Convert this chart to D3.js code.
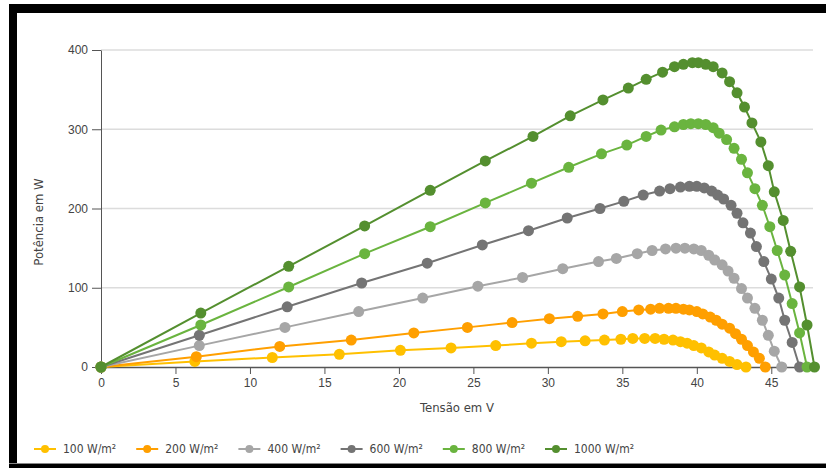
<!DOCTYPE html>
<html>
<head>
<meta charset="utf-8" />
<script src="https://cdn.jsdelivr.net/npm/d3@7"></script>
<style>
  body { margin: 0; background: #fff; }
  svg { display: block; font-family: 'Liberation Sans Narrow', 'DejaVu Sans Condensed', sans-serif; }
  .tick text { fill: #444; font-size: 12px; }
</style>
</head>
<body>
<div id="svg-container"></div>
<script>
const seriesNames = ['100 W/m²', '200 W/m²', '400 W/m²', '600 W/m²', '800 W/m²', '1000 W/m²'];
const seriesColors = ['#ffc000', '#ff9f00', '#a6a6a6', '#747474', '#6ab43f', '#548f2f'];

const volts100 = [0, 6.3, 11.5, 16.0, 20.1, 23.5, 26.5, 28.9, 30.9, 32.5, 33.8, 34.9, 35.7, 36.5, 37.2, 37.8, 38.4, 38.9, 39.35, 39.8, 40.3, 40.8, 41.2, 41.7, 42.2, 42.7, 43.3];
const power100 = [0, 7, 12, 16, 21, 24, 27, 30, 32, 33, 34, 35, 36, 36, 36, 35, 34, 32, 30, 27, 24, 19, 15, 11, 7, 3, 0];

const volts200 = [0, 6.4, 12.0, 16.8, 21.0, 24.6, 27.6, 30.1, 32.0, 33.7, 35.0, 36.1, 36.9, 37.5, 38.1, 38.6, 39.1, 39.5, 40.0, 40.4, 40.9, 41.3, 41.7, 42.2, 42.6, 43.0, 43.4, 43.8, 44.2, 44.6];
const power200 = [0, 13, 26, 34, 43, 50, 56, 61, 64, 67, 70, 72, 73, 74, 74, 74, 73, 72, 70, 67, 63, 59, 54, 49, 42, 35, 27, 19, 11, 0];

const volts400 = [0, 6.6, 12.35, 17.3, 21.6, 25.3, 28.3, 31.0, 33.4, 34.6, 36.0, 37.0, 37.9, 38.6, 39.2, 39.8, 40.3, 40.8, 41.2, 41.7, 42.1, 42.5, 43.0, 43.4, 43.9, 44.4, 44.8, 45.2, 45.7];
const power400 = [0, 27, 50, 70, 87, 102, 113, 124, 133, 137, 143, 147, 149, 150, 150, 149, 147, 141, 135, 129, 121, 112, 99, 87, 74, 59, 40, 20, 0];

const volts600 = [0, 6.6, 12.5, 17.5, 21.9, 25.6, 28.7, 31.3, 33.5, 35.1, 36.4, 37.5, 38.2, 38.9, 39.5, 40.0, 40.5, 41.0, 41.4, 41.8, 42.3, 42.7, 43.1, 43.6, 44.0, 44.5, 45.0, 45.5, 45.9, 46.4, 46.9];
const power600 = [0, 40, 76, 106, 131, 154, 172, 188, 200, 209, 217, 222, 225, 227, 228, 228, 226, 222, 217, 212, 204, 194, 182, 169, 152, 133, 111, 87, 59, 31, 0];

const volts800 = [0, 6.7, 12.6, 17.7, 22.1, 25.8, 28.9, 31.4, 33.6, 35.3, 36.6, 37.6, 38.5, 39.1, 39.6, 40.1, 40.6, 41.1, 41.5, 42.0, 42.5, 43.0, 43.4, 43.9, 44.4, 44.9, 45.4, 45.9, 46.4, 46.9, 47.4];
const power800 = [0, 53, 101, 143, 177, 207, 232, 252, 269, 280, 291, 299, 303, 306, 307, 307, 306, 302, 295, 287, 276, 262, 245, 225, 204, 177, 147, 116, 80, 43, 0];

const volts1000 = [0, 6.7, 12.6, 17.7, 22.1, 25.8, 29.0, 31.5, 33.7, 35.4, 36.6, 37.7, 38.5, 39.1, 39.7, 40.1, 40.6, 41.1, 41.7, 42.2, 42.7, 43.2, 43.7, 44.3, 44.8, 45.2, 45.8, 46.3, 46.9, 47.4, 47.9];
const power1000 = [0, 68, 127, 178, 223, 260, 291, 317, 337, 352, 363, 372, 379, 382, 384, 384, 382, 379, 371, 360, 346, 328, 308, 284, 254, 221, 185, 146, 101, 53, 0];

const xTicks = [0, 5, 10, 15, 20, 25, 30, 35, 40, 45];
const yTicks = [0, 100, 200, 300, 400];

const WIDTH = 826;
const HEIGHT = 468;
const LEFT = 101;
const RIGHT = 813;
const TOP = 50;
const BOTTOM = 367;

const drawChart = () => {
  const series = [
    [volts100, power100],
    [volts200, power200],
    [volts400, power400],
    [volts600, power600],
    [volts800, power800],
    [volts1000, power1000],
  ].map(([volts, power], i) => ({
    name: seriesNames[i],
    color: seriesColors[i],
    points: volts.map((v, j) => [v, power[j]]),
  }));

  const svg = d3
    .create('svg')
    .attr('width', WIDTH)
    .attr('height', HEIGHT);

  svg.append('rect').attr('width', WIDTH).attr('height', HEIGHT).attr('fill', '#fff');

  // black frame of the screenshot
  svg.append('rect').attr('x', 9).attr('y', 4).attr('width', WIDTH - 9).attr('height', 9).attr('fill', '#000');
  svg.append('rect').attr('x', 9).attr('y', 4).attr('width', 8).attr('height', HEIGHT - 4).attr('fill', '#000');
  svg.append('rect').attr('x', 9).attr('y', 464).attr('width', WIDTH - 9).attr('height', 4).attr('fill', '#000');
  svg.append('line').attr('x1', 9).attr('x2', WIDTH).attr('y1', 463.5).attr('y2', 463.5).attr('stroke', '#888');

  const x = d3.scaleLinear().domain([0, 47.8]).range([LEFT, RIGHT]);
  const y = d3.scaleLinear().domain([0, 400]).range([BOTTOM, TOP]);

  svg
    .append('g')
    .selectAll('line')
    .data(yTicks.filter((t) => t > 0))
    .join('line')
    .attr('x1', LEFT)
    .attr('x2', RIGHT)
    .attr('y1', (d) => y(d))
    .attr('y2', (d) => y(d))
    .attr('stroke', '#dcdcdc')
    .attr('stroke-width', 1.5);

  const yAxis = svg
    .append('g')
    .attr('transform', `translate(${LEFT},0)`)
    .call(d3.axisLeft(y).tickValues(yTicks).tickSize(9).tickSizeOuter(0).tickPadding(4));
  yAxis.select('.domain').attr('stroke', '#555');
  yAxis.selectAll('.tick line').attr('stroke', '#555');

  const xAxis = svg
    .append('g')
    .attr('transform', `translate(0,${BOTTOM})`)
    .call(d3.axisBottom(x).tickValues(xTicks).tickSize(7).tickSizeOuter(0).tickPadding(4));
  xAxis.select('.domain').attr('stroke', '#555').attr('stroke-width', 1.5);
  xAxis.selectAll('.tick line').attr('stroke', '#555');

  svg
    .append('text')
    .attr('x', (LEFT + RIGHT) / 2)
    .attr('y', 412)
    .attr('text-anchor', 'middle')
    .attr('fill', '#444')
    .style('font-size', '13px')
    .text('Tensão em V');

  svg
    .append('text')
    .attr('transform', 'translate(43, 222) rotate(-90)')
    .attr('text-anchor', 'middle')
    .attr('fill', '#444')
    .style('font-size', '13px')
    .text('Potência em W');

  const line = d3
    .line()
    .x((d) => x(d[0]))
    .y((d) => y(d[1]));

  const groups = svg
    .append('g')
    .selectAll('g')
    .data(series)
    .join('g');

  groups
    .append('path')
    .attr('d', (d) => line(d.points))
    .attr('fill', 'none')
    .attr('stroke', (d) => d.color)
    .attr('stroke-width', 2);

  groups
    .selectAll('circle')
    .data((d) => d.points.map((p) => ({ p, color: d.color })))
    .join('circle')
    .attr('cx', (d) => x(d.p[0]))
    .attr('cy', (d) => y(d.p[1]))
    .attr('r', 5.5)
    .attr('fill', (d) => d.color);

  const legend = svg
    .append('g')
    .selectAll('g')
    .data(series)
    .join('g')
    .attr('transform', (_, i) => `translate(${34 + i * 102.2}, 449)`);

  legend
    .append('line')
    .attr('x1', 0)
    .attr('x2', 22)
    .attr('stroke', (d) => d.color)
    .attr('stroke-width', 2);

  legend
    .append('circle')
    .attr('cx', 11)
    .attr('r', 4)
    .attr('fill', (d) => d.color);

  legend
    .append('text')
    .attr('x', 29)
    .attr('dy', '0.35em')
    .attr('fill', '#444')
    .style('font-size', '12px')
    .text((d) => d.name);

  document.getElementById('svg-container').appendChild(svg.node());
};

drawChart();
</script>
</body>
</html>
